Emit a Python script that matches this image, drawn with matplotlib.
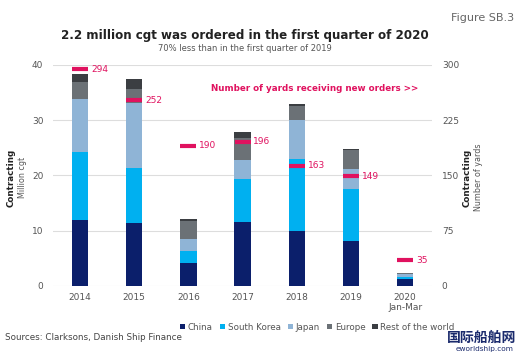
import numpy as np
import matplotlib.pyplot as plt

years = ['2014', '2015', '2016', '2017', '2018', '2019', '2020\nJan-Mar']
china = [11.9, 11.3, 4.2, 11.5, 9.9, 8.2, 1.2]
korea = [12.4, 10.1, 2.1, 7.8, 13.0, 9.3, 0.4]
japan = [9.5, 11.8, 2.1, 3.5, 7.1, 3.6, 0.6]
europe = [3.1, 2.4, 3.4, 4.0, 2.6, 3.5, 0.05]
rest = [1.5, 1.8, 0.3, 1.1, 0.3, 0.2, 0.0]
yards = [294, 252, 190, 196, 163, 149, 35]

series = [('China', china, '#0b1f6b'),
          ('South Korea', korea, '#00b0f0'),
          ('Japan', japan, '#8fb4d6'),
          ('Europe', europe, '#6b7176'),
          ('Rest of the world', rest, '#3b3e42')]

red = '#e0125f'
grey = '#555555'

fig = plt.figure(figsize=(5.27, 3.55), dpi=100)
ax = fig.add_axes([0.1006, 0.195, 0.7194, 0.622])
x = np.arange(len(years))
bottom = np.zeros(len(years))
for name, vals, col in series:
    ax.bar(x, vals, 0.3, bottom=bottom, color=col, label=name, zorder=3)
    bottom += np.array(vals)

ax.set_xlim(-0.5, 6.5)
ax.set_ylim(0, 40)
ax.set_yticks([0, 10, 20, 30, 40])
ax.set_xticks(x)
ax.set_xticklabels(years)
ax.grid(axis='y', color='#dddddd', lw=0.8, zorder=0)
for s in ax.spines.values():
    s.set_visible(False)
ax.tick_params(length=0, labelsize=6.5, labelcolor=grey, pad=7)
ax.tick_params(axis='x', pad=5)

ax2 = ax.twinx()
ax2.set_ylim(0, 300)
ax2.set_yticks([0, 75, 150, 225, 300])
for s in ax2.spines.values():
    s.set_visible(False)
ax2.tick_params(length=0, labelsize=6.5, labelcolor=grey, pad=7)
ax2.plot(x, yards, ls='none', marker='_', ms=11, mew=3, color=red, zorder=5)
for xi, v in zip(x, yards):
    ax2.text(xi + 0.2, v, str(v), color=red, fontsize=6.5, va='center', ha='left')

ax2.text(0.963, 0.895, 'Number of yards receiving new orders >>', transform=ax.transAxes,
         ha='right', va='center', color=red, fontsize=6.3, fontweight='bold')

fig.text(0.022, 0.50, 'Contracting', rotation=90, fontsize=6.3, fontweight='bold',
         ha='center', va='center', color='#222222')
fig.text(0.043, 0.50, 'Million cgt', rotation=90, fontsize=5.8, ha='center',
         va='center', color=grey)
fig.text(0.886, 0.50, 'Contracting', rotation=90, fontsize=6.3, fontweight='bold',
         ha='center', va='center', color='#222222')
fig.text(0.908, 0.50, 'Number of yards', rotation=90, fontsize=5.8, ha='center',
         va='center', color=grey)

fig.text(0.465, 0.899, '2.2 million cgt was ordered in the first quarter of 2020',
         ha='center', va='center', fontsize=8.6, fontweight='bold', color='#222222')
fig.text(0.465, 0.862, '70% less than in the first quarter of 2019', ha='center',
         va='center', fontsize=6, color=grey)
fig.text(0.975, 0.95, 'Figure SB.3', ha='right', va='center', fontsize=8, color='#666666')

ax.legend(loc='center', bbox_to_anchor=(0.697, -0.187), ncol=5, frameon=False,
          fontsize=6.3, handlelength=0.6, handleheight=0.6, handletextpad=0.3,
          columnspacing=0.8, labelcolor=grey, borderaxespad=0)

fig.text(0.01, 0.05, 'Sources: Clarksons, Danish Ship Finance', fontsize=6.3,
         color='#444444', va='center')
fig.text(0.98, 0.047, '国际船舶网', fontsize=10, fontweight='bold', color='#1a2a6c',
         ha='right', va='center', family=['Noto Sans CJK SC', 'DejaVu Sans'])
fig.text(0.975, 0.016, 'eworldship.com', fontsize=5.3, color='#1a2a6c', ha='right',
         va='center')

fig.savefig('out.png', dpi=100)
